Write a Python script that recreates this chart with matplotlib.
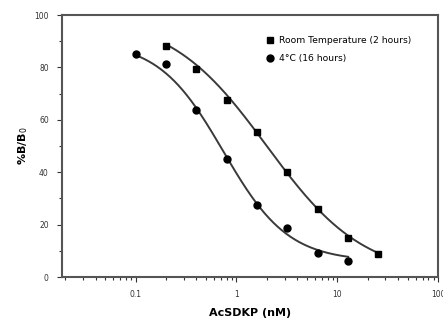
import numpy as np
import matplotlib.pyplot as plt
from matplotlib.ticker import LogLocator, FixedLocator, NullFormatter

# measured points (concentration in nM, %B/B0)
conc_rt = [0.2, 0.4, 0.8, 1.6, 3.2, 6.4, 12.8, 25.6]
pct_rt = [88.2, 79.4, 67.6, 55.5, 40.0, 26.0, 15.0, 8.8]

conc_4c = [0.1, 0.2, 0.4, 0.8, 1.6, 3.2, 6.4, 12.8]
pct_4c = [85.1, 81.2, 63.7, 44.9, 27.7, 18.6, 9.3, 6.2]

# 4-parameter logistic fit parameters: top, bottom, ec50, hill
fit_rt = [100.0, 0.0, 2.0, 0.9]
fit_4c = [90.0, 6.0, 0.74, 1.35]

labels = ['Room Temperature (2 hours)', '4\u00b0C (16 hours)']


def logistic(x, top, bottom, ec50, hill):
    return bottom + (top - bottom) / (1 + (x / ec50) ** hill)


fig = plt.figure(figsize=(4.43, 3.2), dpi=100)
ax = fig.add_axes([0.14, 0.134, 0.849, 0.819])

line_col = '#3a3a3a'
xs = np.logspace(np.log10(conc_rt[0]), np.log10(conc_rt[-1]), 200)
ax.plot(xs, logistic(xs, *fit_rt), color=line_col, lw=1.4)
xs = np.logspace(np.log10(conc_4c[0]), np.log10(conc_4c[-1]), 200)
ax.plot(xs, logistic(xs, *fit_4c), color=line_col, lw=1.4)

ax.plot(conc_rt, pct_rt, 's', color='black', ms=4.5, label=labels[0])
ax.plot(conc_4c, pct_4c, 'o', color='black', ms=5, label=labels[1])

ax.set_xscale('log')
ax.set_xlim(0.0186, 100)
ax.set_ylim(0, 100)
ax.xaxis.set_major_locator(FixedLocator([0.1, 1, 10, 100]))
ax.set_xticklabels(['0.1', '1', '10', '100'])
ax.xaxis.set_minor_locator(LogLocator(base=10, subs=np.arange(2, 10)))
ax.xaxis.set_minor_formatter(NullFormatter())
ax.set_yticks([0, 20, 40, 60, 80, 100])
ax.set_yticks(np.arange(10, 100, 20), minor=True)

ax.tick_params(which='both', direction='out', labelsize=5.5, width=0.8, colors='#333333')
ax.tick_params(which='major', length=3.5, pad=6)
ax.tick_params(which='minor', length=2)
for s in ax.spines.values():
    s.set_color('#555555')
    s.set_linewidth(1.5)

ax.set_xlabel('AcSDKP (nM)', fontsize=8, fontweight='bold', labelpad=6)
ax.set_ylabel('%B/B$_0$', fontsize=8, fontweight='bold', labelpad=3)

ax.legend(loc='upper left', bbox_to_anchor=(0.53, 0.935), frameon=False, fontsize=6.6,
          handletextpad=0.5, borderaxespad=0, labelspacing=1.05, handlelength=1.0)

fig.savefig('out.png', dpi=100)
